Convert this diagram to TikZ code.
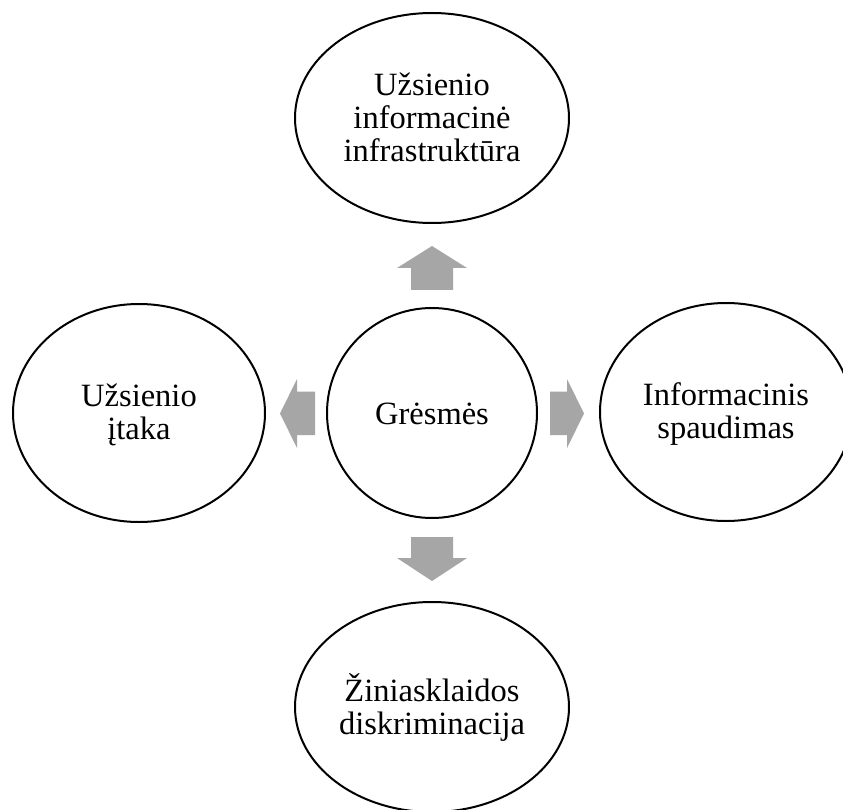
\documentclass[tikz,border=0pt]{standalone}
\usepackage{fontspec}
\setmainfont{Liberation Serif}
\usetikzlibrary{shapes.geometric}
\definecolor{arrowgray}{RGB}{166,166,166}
\newcommand{\ms}{\rule[-5pt]{0pt}{32pt}}
\tikzset{
  bub/.style={ellipse, draw=black, line width=2pt, inner sep=0pt, align=center,
              font=\fontsize{32.5}{33}\selectfont},
  arr/.style={fill=arrowgray, draw=none}
}
\begin{document}
\begin{tikzpicture}[x=1pt, y=-1pt]
\useasboundingbox (0,0) rectangle (843,810);
\clip (0,0) rectangle (843,810);
\fill[white] (0,0) rectangle (843,810);

\node[bub, minimum width=210, minimum height=210] (g) at (432,413) {\ms Grėsmės\ms};
\node[bub, minimum width=274, minimum height=210] (top) at (432,118)
  {\ms Užsienio\ms\\\ms informacinė\ms\\\ms infrastruktūra\ms};
\node[bub, minimum width=252, minimum height=218] (left) at (139,413)
  {\ms Užsienio\ms\\\ms įtaka\ms};
\node[bub, minimum width=252, minimum height=218] (right) at (726,412)
  {\ms Informacinis\ms\\\ms spaudimas\ms};
\node[bub, minimum width=274, minimum height=210] (bottom) at (432,707)
  {\ms Žiniasklaidos\ms\\\ms diskriminacija\ms};

\begin{scope}[shift={(g.center)}]
  % up
  \fill[arr] (-21,-123) -- (-21,-145) -- (-35,-145) -- (0,-167) -- (35,-145) -- (21,-145) -- (21,-123) -- cycle;
  % down
  \fill[arr] (-21,124) -- (-21,145) -- (-35,145) -- (0,168) -- (35,145) -- (21,145) -- (21,124) -- cycle;
  % left
  \fill[arr] (-117,-21.5) -- (-135,-21.5) -- (-135,-34) -- (-152,0.5) -- (-135,35) -- (-135,22) -- (-117,22) -- cycle;
  % right
  \fill[arr] (118,-21.5) -- (135,-21.5) -- (135,-34) -- (152,0.5) -- (135,35) -- (135,22) -- (118,22) -- cycle;
\end{scope}
\end{tikzpicture}
\end{document}
